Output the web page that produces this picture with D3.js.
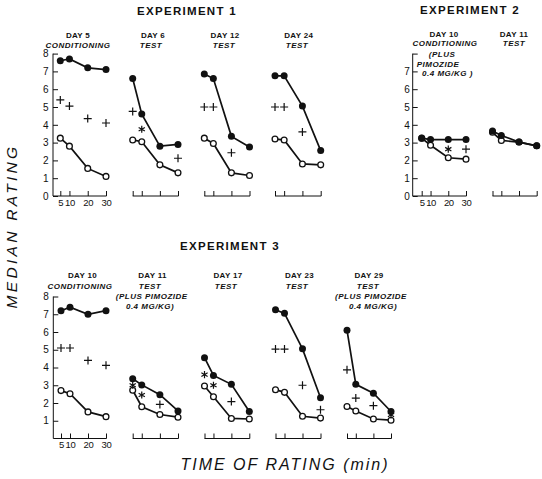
<!DOCTYPE html>
<html>
<head>
<meta charset="utf-8">
<script src="https://cdn.jsdelivr.net/npm/d3@7"></script>
<style>
  html, body { margin: 0; padding: 0; background: #fff; }
  svg { display: block; font-family: "Liberation Sans", Arial, sans-serif; }
</style>
</head>
<body>
<svg id="chart" width="542" height="479"></svg>
<script>
// ---------------- DATA ----------------
const minutes = [5, 10, 20, 30];
const xTickLabels = ["5", "10", "20", "30"];
const ratingTicks = [0, 1, 2, 3, 4, 5, 6, 7, 8];

// Experiment 1
const e1d5Filled  = [7.6, 7.7, 7.2, 7.1];
const e1d5Open    = [3.25, 2.8, 1.55, 1.1];
const e1d5Plus    = [[5, 5.4], [10, 5.05], [20, 4.35], [30, 4.1]];
const e1d6Filled  = [6.6, 4.6, 2.8, 2.9];
const e1d6Open    = [3.15, 3.05, 1.75, 1.3];
const e1d6Plus    = [[5, 4.75], [30, 2.12]];
const e1d6Star    = [[10, 3.75]];
const e1d12Filled = [6.85, 6.6, 3.35, 2.75];
const e1d12Open   = [3.25, 2.95, 1.3, 1.15];
const e1d12Plus   = [[5, 5.0], [10, 5.0], [20, 2.43]];
const e1d24Filled = [6.75, 6.75, 5.05, 2.55];
const e1d24Open   = [3.2, 3.15, 1.8, 1.75];
const e1d24Plus   = [[5, 5.0], [10, 5.0], [20, 3.6]];

// Experiment 2
const e2d10Filled = [3.25, 3.17, 3.17, 3.17];
const e2d10Open   = [3.25, 2.85, 2.15, 2.07];
const e2d10Plus   = [[30, 2.63]];
const e2d10Star   = [[20, 2.63]];
const e2d11Filled = [3.65, 3.4, 3.03, 2.82];
const e2d11Open   = [3.58, 3.12, 3.03, 2.82];

// Experiment 3
const e3d10Filled = [7.2, 7.4, 7.0, 7.2];
const e3d10Open   = [2.7, 2.52, 1.5, 1.23];
const e3d10Plus   = [[5, 5.1], [10, 5.1], [20, 4.4], [30, 4.12]];
const e3d11Filled = [3.37, 3.02, 2.47, 1.55];
const e3d11Open   = [2.72, 1.79, 1.35, 1.2];
const e3d11Plus   = [[20, 1.92]];
const e3d11Star   = [[5, 3.0], [10, 2.45]];
const e3d17Filled = [4.55, 3.55, 3.05, 1.52];
const e3d17Open   = [2.96, 2.35, 1.13, 1.1];
const e3d17Plus   = [[20, 2.08]];
const e3d17Star   = [[5, 3.6], [10, 3.0]];
const e3d23Filled = [7.25, 7.05, 5.05, 2.3];
const e3d23Open   = [2.75, 2.6, 1.25, 1.15];
const e3d23Plus   = [[5, 5.04], [10, 5.04], [20, 3.0], [30, 1.62]];
const e3d29Filled = [6.1, 3.05, 2.55, 1.52];
const e3d29Open   = [1.8, 1.55, 1.1, 1.03];
const e3d29Plus   = [[5, 3.87], [10, 2.28], [20, 1.85]];
const e3d29Star   = [[30, 1.33]];

// ---------------- LAYOUT ----------------
const svg = d3.select("#chart");
const ink = "#111";

const rows = {
  r1: d3.scaleLinear().domain([0, 8]).range([196, 53.6]),
  r3: d3.scaleLinear().domain([0, 8]).range([438.5, 296.5])
};

const panels = [
  { row: "r1", x: [60.3, 106], axis: 53, yLabels: [0,1,2,3,4,5,6,7,8], filled: e1d5Filled, open: e1d5Open, plus: e1d5Plus, star: [],
    title: [["DAY 5", 78, 37.5, false], ["CONDITIONING", 78, 47.5, true]] },
  { row: "r1", x: [132.7, 178], filled: e1d6Filled, open: e1d6Open, plus: e1d6Plus, star: e1d6Star,
    title: [["DAY 6", 153, 37.5, false], ["TEST", 151, 47.5, true]] },
  { row: "r1", x: [204.3, 249.5], filled: e1d12Filled, open: e1d12Open, plus: e1d12Plus, star: [],
    title: [["DAY 12", 225, 37.5, false], ["TEST", 224, 47.5, true]] },
  { row: "r1", x: [275, 320.7], filled: e1d24Filled, open: e1d24Open, plus: e1d24Plus, star: [],
    title: [["DAY 24", 298.7, 37.5, false], ["TEST", 297, 47.5, true]] },
  { row: "r1", x: [421.7, 466], axis: 412.7, yLabels: [0,1,2,3,4,5,6,7], filled: e2d10Filled, open: e2d10Open, plus: e2d10Plus, star: e2d10Star,
    title: [["DAY 10", 444, 37.3, false], ["CONDITIONING", 445, 46.3, true],
            ["(PLUS", 442, 56.5, true], ["PIMOZIDE", 438, 66.5, true], ["0.4 MG/KG )", 447.5, 76.3, true]] },
  { row: "r1", x: [492.5, 536.7], filled: e2d11Filled, open: e2d11Open, plus: [], star: [],
    title: [["DAY 11", 514, 37.3, false], ["TEST", 514, 46.3, true]] },
  { row: "r3", x: [61, 106], axis: 53.3, yLabels: [1,2,3,4,5,6,7,8], filled: e3d10Filled, open: e3d10Open, plus: e3d10Plus, star: [],
    title: [["DAY 10", 82.5, 277.7, false], ["CONDITIONING", 80, 288.9, true]] },
  { row: "r3", x: [132.7, 178], filled: e3d11Filled, open: e3d11Open, plus: e3d11Plus, star: e3d11Star,
    title: [["DAY 11", 152.5, 277.7, false], ["TEST", 150, 288.7, true],
            ["(PLUS PIMOZIDE", 151.7, 299, true], ["0.4 MG/KG)", 150, 309.3, true]] },
  { row: "r3", x: [204.5, 249.3], filled: e3d17Filled, open: e3d17Open, plus: e3d17Plus, star: e3d17Star,
    title: [["DAY 17", 228, 277.7, false], ["TEST", 226, 288.7, true]] },
  { row: "r3", x: [275.5, 320.5], filled: e3d23Filled, open: e3d23Open, plus: e3d23Plus, star: [],
    title: [["DAY 23", 299.5, 277.7, false], ["TEST", 297, 288.7, true]] },
  { row: "r3", x: [347, 391], filled: e3d29Filled, open: e3d29Open, plus: e3d29Plus, star: e3d29Star,
    title: [["DAY 29", 369, 277.7, false], ["TEST", 368, 288.7, true],
            ["(PLUS PIMOZIDE", 371, 299, true], ["0.4 MG/KG)", 373, 309.3, true]] }
];

// Experiment titles
const expTitles = [["EXPERIMENT 1", 187, 15], ["EXPERIMENT 2", 470, 13.5], ["EXPERIMENT 3", 230, 250]];
svg.selectAll("text.exp").data(expTitles).join("text")
  .attr("class", "exp")
  .attr("x", d => d[1]).attr("y", d => d[2])
  .attr("text-anchor", "middle")
  .attr("font-size", 11.5).attr("font-weight", "bold")
  .attr("letter-spacing", 1.3)
  .attr("fill", ink)
  .text(d => d[0]);

const line = (xs, ys) => d3.line().x((d, i) => xs(minutes[i])).y(d => ys(d));

function plusPath(cx, cy, h) {
  return `M${cx - h},${cy}L${cx + h},${cy}M${cx},${cy - h}L${cx},${cy + h}`;
}
function starPath(cx, cy, h) {
  let p = "";
  for (let k = 0; k < 3; k++) {
    const a = Math.PI / 2 + k * Math.PI / 3;
    const dx = h * Math.cos(a), dy = h * Math.sin(a);
    p += `M${cx - dx},${cy - dy}L${cx + dx},${cy + dy}`;
  }
  return p;
}

panels.forEach(p => {
  const ys = rows[p.row];
  const xs = d3.scaleLinear().domain([5, 30]).range(p.x);
  const g = svg.append("g");
  const base = ys(0);

  // panel titles
  g.selectAll("text.pt").data(p.title).join("text")
    .attr("class", "pt")
    .attr("x", d => d[1]).attr("y", d => d[2])
    .attr("text-anchor", "middle")
    .attr("font-size", 8).attr("font-weight", "bold")
    .attr("font-style", d => d[3] ? "italic" : "normal")
    .attr("letter-spacing", d => d[3] ? 0.5 : 0.3)
    .attr("fill", ink)
    .text(d => d[0]);

  // baseline
  g.append("line")
    .attr("x1", p.axis !== undefined ? p.axis : xs(5)).attr("x2", xs(30) + 0.5)
    .attr("y1", base).attr("y2", base)
    .attr("stroke", ink).attr("stroke-width", 1);

  // x axis ticks
  const xAxis = d3.axisBottom(xs).tickValues(minutes)
    .tickSizeInner(-5).tickSizeOuter(0).tickPadding(3)
    .tickFormat((d, i) => p.axis !== undefined ? xTickLabels[i] : "");
  const xg = g.append("g").attr("transform", `translate(0,${base})`).call(xAxis);
  xg.select(".domain").remove();
  xg.selectAll("line").attr("stroke", ink);
  xg.selectAll("text").attr("font-size", 9.5).attr("fill", ink)
    .attr("letter-spacing", -0.4)
    .attr("font-family", "Liberation Sans, Arial, sans-serif");

  // y axis
  if (p.axis !== undefined) {
    const yAxis = d3.axisLeft(ys).tickValues(p.row === "r3" ? ratingTicks.slice(1) : ratingTicks)
      .tickSizeInner(-5).tickSizeOuter(0).tickPadding(p.row === "r1" && p.axis > 400 ? 3 : 4.5)
      .tickFormat(d => p.yLabels.includes(d) ? String(d) : "");
    const yg = g.append("g").attr("transform", `translate(${p.axis},0)`).call(yAxis);
    yg.select(".domain").attr("d", `M0,${base}V${ys(8)}`).attr("stroke", ink);
    yg.selectAll("line").attr("stroke", ink);
    yg.selectAll("text").attr("font-size", 10).attr("fill", ink)
      .attr("font-family", "Liberation Sans, Arial, sans-serif");
  }

  // lines
  g.append("path").attr("d", line(xs, ys)(p.open))
    .attr("fill", "none").attr("stroke", ink).attr("stroke-width", 1.7);
  g.append("path").attr("d", line(xs, ys)(p.filled))
    .attr("fill", "none").attr("stroke", ink).attr("stroke-width", 1.7);

  // markers
  g.selectAll("circle.open").data(p.open).join("circle")
    .attr("class", "open")
    .attr("cx", (d, i) => xs(minutes[i])).attr("cy", d => ys(d))
    .attr("r", 2.9).attr("fill", "#fff").attr("stroke", ink).attr("stroke-width", 1.3);
  g.selectAll("circle.filled").data(p.filled).join("circle")
    .attr("class", "filled")
    .attr("cx", (d, i) => xs(minutes[i])).attr("cy", d => ys(d))
    .attr("r", 3.5).attr("fill", ink);

  // plus & asterisk
  g.selectAll("path.plus").data(p.plus).join("path")
    .attr("class", "plus")
    .attr("d", d => plusPath(xs(d[0]), ys(d[1]), 4))
    .attr("stroke", ink).attr("stroke-width", 1.2).attr("fill", "none");
  g.selectAll("path.star").data(p.star).join("path")
    .attr("class", "star")
    .attr("d", d => starPath(xs(d[0]), ys(d[1]), 3.6))
    .attr("stroke", ink).attr("stroke-width", 1.2).attr("fill", "none");
});

// axis titles
svg.append("text")
  .attr("transform", "translate(17,226) rotate(-90)")
  .attr("text-anchor", "middle")
  .attr("font-size", 15.5).attr("font-style", "italic")
  .attr("letter-spacing", 3.3)
  .attr("fill", ink)
  .text("MEDIAN RATING");

svg.append("text")
  .attr("x", 285).attr("y", 470)
  .attr("text-anchor", "middle")
  .attr("font-size", 16).attr("font-style", "italic")
  .attr("letter-spacing", 2)
  .attr("fill", ink)
  .text("TIME OF RATING (min)");
</script>
</body>
</html>
